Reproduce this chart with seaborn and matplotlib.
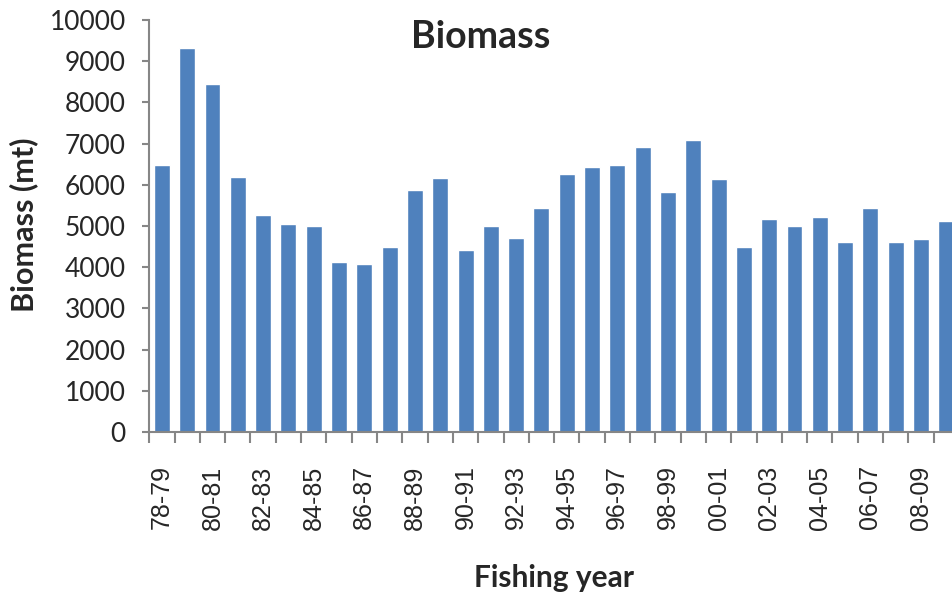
import matplotlib
matplotlib.use("Agg")
import matplotlib.pyplot as plt
import seaborn as sns
import pandas as pd

# fishing years 78-79 .. 09-10
seasons = ['78-79', '79-80', '80-81', '81-82', '82-83', '83-84', '84-85', '85-86',
           '86-87', '87-88', '88-89', '89-90', '90-91', '91-92', '92-93', '93-94',
           '94-95', '95-96', '96-97', '97-98', '98-99', '99-00', '00-01', '01-02',
           '02-03', '03-04', '04-05', '05-06', '06-07', '07-08', '08-09', '09-10']
biomass = [6480, 9330, 8450, 6200, 5270, 5060, 5000, 4120,
           4070, 4500, 5870, 6160, 4410, 5000, 4720, 5440,
           6260, 6420, 6480, 6920, 5820, 7080, 6150, 4500,
           5160, 5000, 5220, 4620, 5440, 4620, 4680, 5110]

bar_color = '#4F81BD'
axis_gray = '#868686'

sns.set_style("white")
plt.rcParams['font.family'] = ['Lato', 'DejaVu Sans']

df = pd.DataFrame({'season': seasons, 'biomass': biomass})

fig = plt.figure(figsize=(9.52, 5.96), dpi=100)
ax = fig.add_axes([0.1568, 0.2752, 0.8505, 0.6913])

sns.barplot(data=df, x='season', y='biomass', color=bar_color, saturation=1,
            width=0.63, ax=ax)

ax.set_xlim(-0.5, len(seasons) - 0.5)
ax.set_ylim(0, 10000)
ax.set_yticks(range(0, 10001, 1000))
ax.tick_params(axis='y', length=5, width=1.5, color=axis_gray, pad=12,
               labelsize=19, left=True)

# labels on every other category, tick marks on category boundaries
ax.set_xticks(range(0, len(seasons), 2))
ax.set_xticklabels(seasons[::2], rotation=90, fontsize=18,
                   family='Liberation Sans')
ax.tick_params(axis='x', which='major', length=0, pad=24)
ax.set_xticks([i - 0.5 for i in range(len(seasons) + 1)], minor=True)
ax.tick_params(axis='x', which='minor', length=8, width=1.5, color=axis_gray,
               bottom=True)

ax.set_xlabel('')
ax.set_ylabel('')
for side in ['top', 'right']:
    ax.spines[side].set_visible(False)
for side in ['left', 'bottom']:
    ax.spines[side].set_color(axis_gray)
    ax.spines[side].set_linewidth(1.5)

fig.text(481 / 952, 1 - 48 / 596, 'Biomass', ha='center', va='baseline',
         fontsize=27, fontweight='bold')
fig.text(24 / 952, 1 - 225 / 596, 'Biomass (mt)', ha='center', va='center',
         rotation=90, fontsize=22, fontweight='bold')
fig.text(554 / 952, 1 - 587 / 596, 'Fishing year', ha='center', va='baseline',
         fontsize=21.5, fontweight='bold')

fig.savefig('out.png', dpi=100)
